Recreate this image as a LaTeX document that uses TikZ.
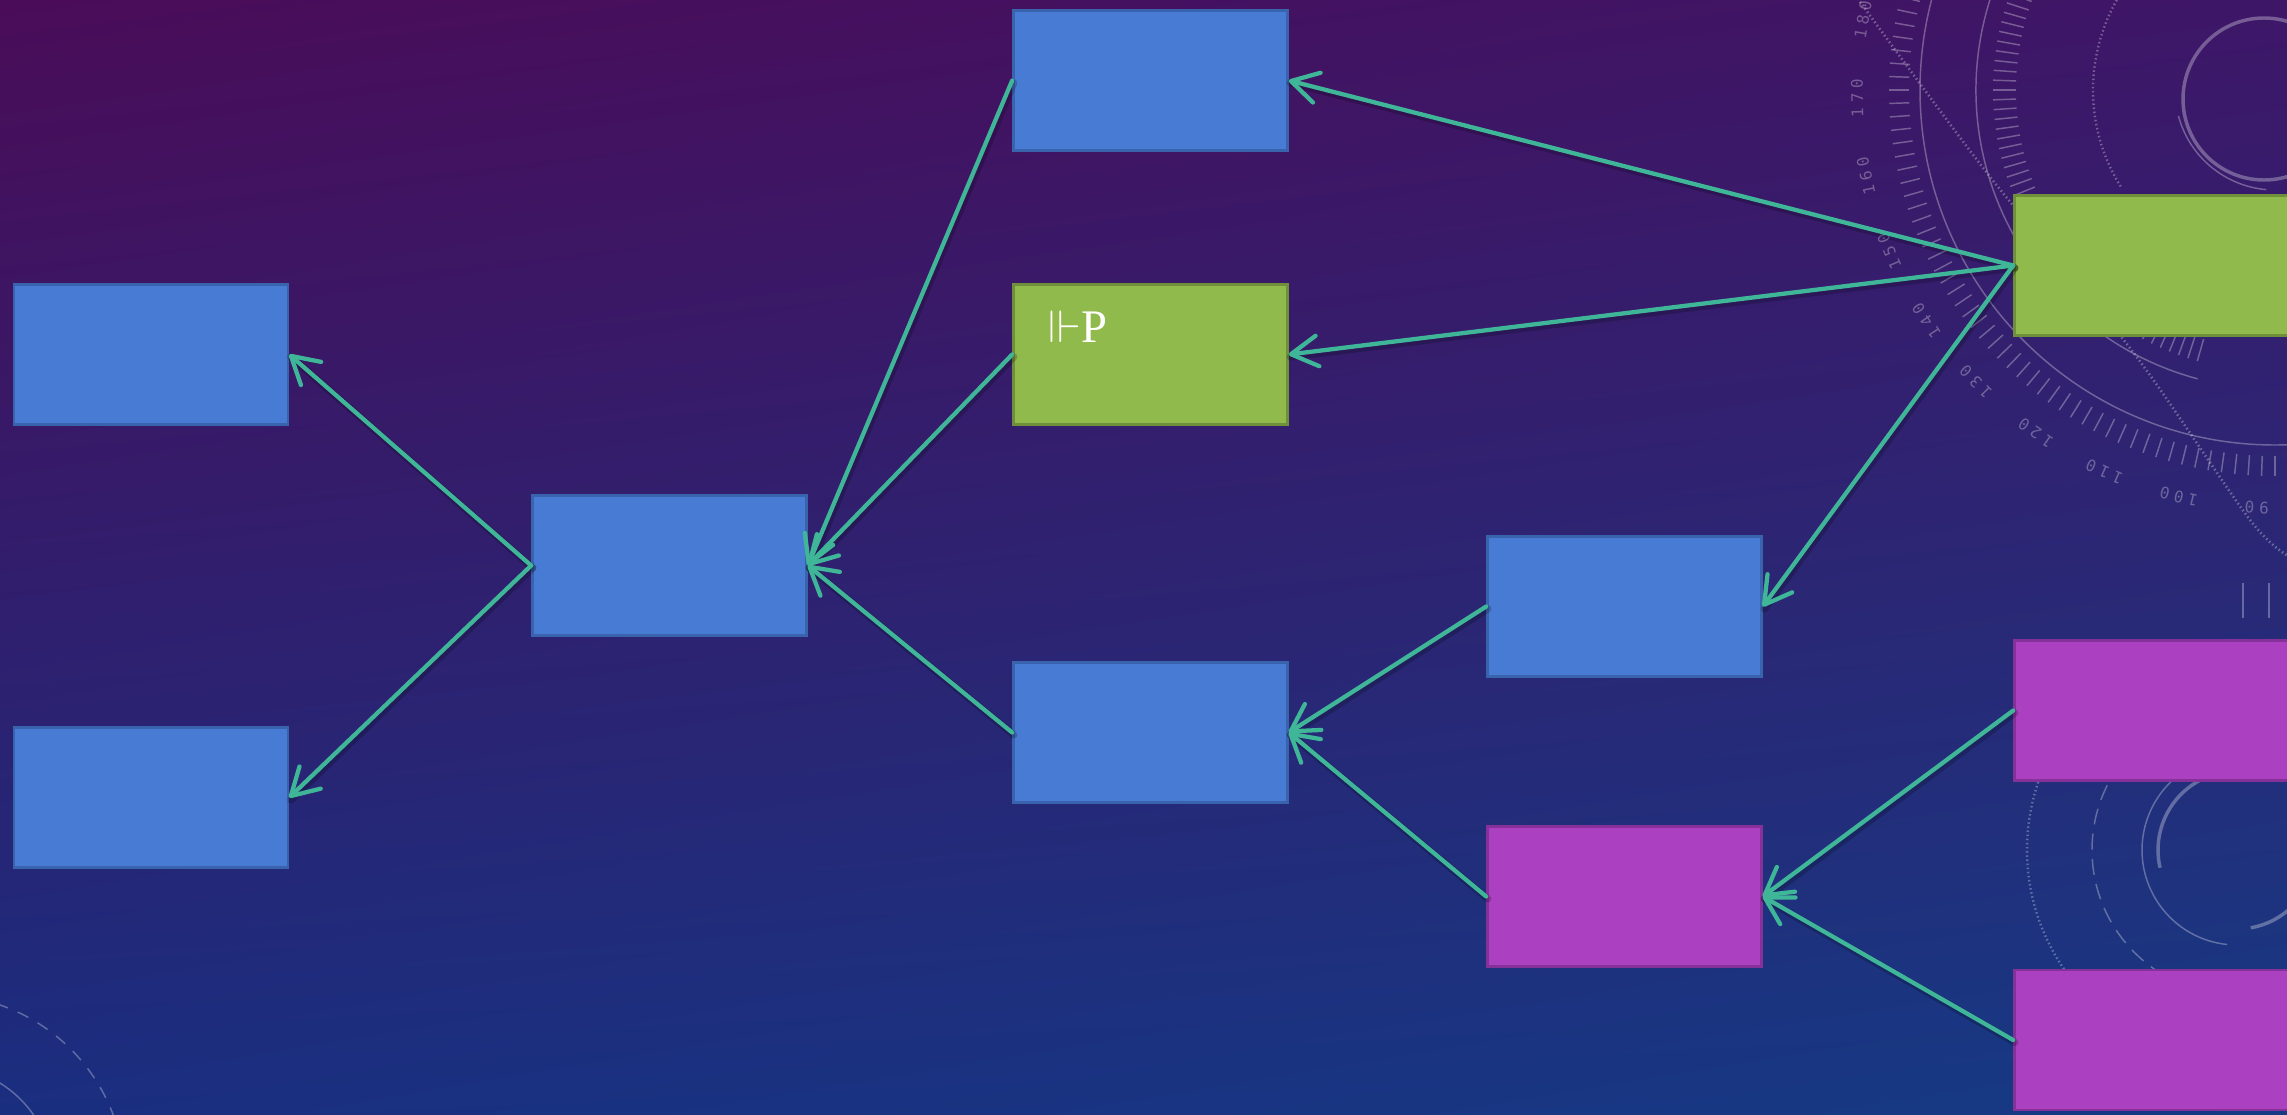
\documentclass[tikz,border=0pt]{standalone}
\usepackage{fontspec}
\usepackage{amssymb}
\setmainfont{Liberation Serif}
\newfontfamily\dialfont[LetterSpace=30]{DejaVu Sans Mono}
\usetikzlibrary{arrows.meta,shadings}

\definecolor{bgTL}{HTML}{4A0C58}
\definecolor{bgTR}{HTML}{3E1668}
\definecolor{bgBL}{HTML}{1A2E80}
\definecolor{bgBR}{HTML}{163A84}
\definecolor{boxblue}{HTML}{487CD4}
\definecolor{boxblueline}{HTML}{3A63AE}
\definecolor{boxgreen}{HTML}{91BA4C}
\definecolor{boxgreenline}{HTML}{6F8F3A}
\definecolor{boxpink}{HTML}{AB40C1}
\definecolor{boxpinkline}{HTML}{86309A}
\definecolor{linkteal}{HTML}{40B698}

\begin{document}
\begin{tikzpicture}[x=0.75pt,y=-0.75pt,
  box/.style={rectangle, line width=2pt, minimum width=205.5pt,
    minimum height=105pt, inner sep=0pt},
  bluebox/.style={box, fill=boxblue, draw=boxblueline},
  greenbox/.style={box, fill=boxgreen, draw=boxgreenline},
  pinkbox/.style={box, fill=boxpink, draw=boxpinkline},
  linkshadow/.style={draw=black, draw opacity=0.2, line width=5.5pt, line cap=round,
    transform canvas={shift={(1.2pt,-1.8pt)}}},
  link/.style={draw=linkteal, line width=3.2pt, line cap=round,
    -{Straight Barb[length=20pt, width=23pt, line width=3.2pt, line cap=round, line join=round]}},
  deco/.style={draw=white, draw opacity=0.3, line width=1.1pt},
  decothick/.style={draw=white, draw opacity=0.3, line width=2.6pt},
  dialnum/.style={text=white, text opacity=0.3, inner sep=0pt,
    font=\dialfont\fontsize{12}{12}\selectfont}]

\useasboundingbox (0,0) rectangle (2287,1114);
\begin{scope}
\clip (0,0) rectangle (2287,1114);

% night-sky backdrop
\shade[upper left=bgTL, upper right=bgTR, lower left=bgBL, lower right=bgBR]
  (0,0) rectangle (2287,1114);

% dial ornament, upper right
\begin{scope}[shift={(2275,90)}]
  \draw[deco] (0,0) circle[radius=355];
  \draw[deco] (105:299) arc[start angle=105, end angle=275, radius=299];
  \foreach \t in {80,82,...,276} \draw[deco] (\t:366) -- (\t:386);
  \foreach \t in {106,108,...,270} \draw[deco] (\t:259) -- (\t:282);
  \draw[deco, dotted, line width=1.8pt] (148:182) arc[start angle=148, end angle=275, radius=182];
  \draw[deco] (165:100) arc[start angle=165, end angle=95, radius=100];
  \foreach \v in {90,100,...,180}
    \node[dialnum, rotate={-(92.5+(\v-90)*1.08)-90}] (dial\v)
      at ({92.5+(\v-90)*1.08}:418) {\v};
\end{scope}
\draw[decothick] (2264,99) circle[radius=81];
\draw[deco, dotted, line width=2pt] plot[smooth] coordinates
  {(1855,-5) (1987,173) (2133,352) (2250,520) (2290,557)};
\draw[deco] (2243,583) -- (2243,618);
\draw[deco] (2269,583) -- (2269,618);

% ring ornament, lower right
\begin{scope}[shift={(2237,850)}]
  \draw[deco] (96:95) arc[start angle=96, end angle=260, radius=95];
  \draw[decothick] (167:79) arc[start angle=167, end angle=260, radius=79];
  \draw[decothick] (80:79) arc[start angle=80, end angle=10, radius=79];
  \draw[deco, dashed, dash pattern=on 12pt off 7pt] (0,0) circle[radius=145];
  \draw[deco, dotted, line width=1.8pt] (0,0) circle[radius=210];
\end{scope}

% ring ornament, lower left
\begin{scope}[shift={(-60,1180)}]
  \draw[deco, dashed, dash pattern=on 9pt off 8pt] (0,0) circle[radius=185];
  \draw[deco] (0,0) circle[radius=114];
\end{scope}

% boxes
\node[bluebox]  (top)    at (1150.5, 80.5)  {};
\node[greenbox] (forces) at (1150.5, 354.5) {};
\node[bluebox]  (left1)  at (151, 354.5)    {};
\node[bluebox]  (left2)  at (151, 797.5)    {};
\node[bluebox]  (hub)    at (669.5, 565.5)  {};
\node[bluebox]  (mid)    at (1150.5, 732.5) {};
\node[bluebox]  (right1) at (1624.5, 606.5) {};
\node[pinkbox]  (right2) at (1624.5, 896.5) {};
\node[greenbox] (src)    at (2151.5, 265.5) {};
\node[pinkbox]  (far1)   at (2151.5, 710.5) {};
\node[pinkbox]  (far2)   at (2151.5, 1040)  {};

\node[anchor=base west, text=white, inner sep=0pt] (label) at (1048,342)
  {{\fontsize{34}{38}\selectfont$\Vdash$}{\fontsize{35}{40}\selectfont P}};

% connectors: soft shadow first, then the teal arrows
\foreach \a/\b in {src/top, src/forces, src/right1, top/hub, forces/hub, mid/hub,
                   hub/left1, hub/left2, right1/mid, right2/mid, far1/right2, far2/right2}
  \draw[linkshadow] (\a.west) -- (\b.east);
\draw[link] (src.west) -- (top.east);
\draw[link] (src.west) -- (forces.east);
\draw[link] (src.west) -- (right1.east);
\draw[link] (top.west) -- (hub.east);
\draw[link] (forces.west) -- (hub.east);
\draw[link] (mid.west) -- (hub.east);
\draw[link] (hub.west) -- (left1.east);
\draw[link] (hub.west) -- (left2.east);
\draw[link] (right1.west) -- (mid.east);
\draw[link] (right2.west) -- (mid.east);
\draw[link] (far1.west) -- (right2.east);
\draw[link] (far2.west) -- (right2.east);
\end{scope}
\end{tikzpicture}
\end{document}
